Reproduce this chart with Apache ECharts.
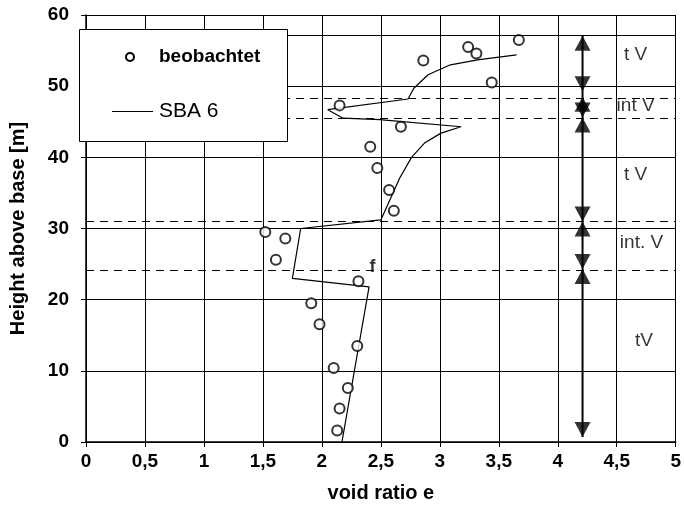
<!DOCTYPE html>
<html><head><meta charset="utf-8">
<script src="https://cdn.jsdelivr.net/npm/echarts@6/dist/echarts.min.js"></script>
<style>html,body{margin:0;padding:0;background:#fff}#c{width:684px;height:515px}</style>
</head><body><div id="c"></div>
<script>
// observed void ratio (x) vs height (y)
const observed = [
  [3.67,56.5],[3.24,55.5],[3.31,54.6],[2.86,53.6],[3.44,50.5],[2.15,47.3],[2.67,44.3],
  [2.41,41.5],[2.47,38.5],[2.57,35.4],[2.61,32.5],[1.52,29.5],[1.69,28.6],[1.61,25.6],
  [2.31,22.6],[1.91,19.5],[1.98,16.55],[2.30,13.5],[2.10,10.4],[2.22,7.6],[2.15,4.7],[2.13,1.6]
];
// SBA 6 model curve
const sba6 = [
  [2.17,0],[2.40,21.8],[1.75,23.0],[1.82,30.0],[2.50,31.2],[2.66,37.1],[2.76,40.0],
  [2.87,42.0],[3.01,43.4],[3.18,44.3],[2.49,45.3],[2.18,45.5],[2.05,46.7],[2.73,48.2],
  [2.78,49.7],[2.90,51.6],[3.09,53.0],[3.32,53.7],[3.65,54.4]
];
const solidBoundaries = [57.1];
const dashedBoundaries = [48.3, 45.5, 31.0, 24.1];
const arrowX = 4.21;
const arrowSpan = [0.7, 57.1];
const upTips = [57.1, 48.5, 45.6, 31.0, 24.3];
const downTips = [49.3, 45.6, 31.0, 24.3, 0.7];
const zoneLabels = [
  {name:'t V', value:[4.66,54.4]},
  {name:'int V', value:[4.66,47.2]},
  {name:'t V', value:[4.66,37.6]},
  {name:'int. V', value:[4.71,28.0]},
  {name:'tV', value:[4.73,14.2]}
];
const fLabel = [{name:'f', value:[2.43,24.6]}];
const xTicks = {min:0, max:5, interval:0.5};
const yTicks = {min:0, max:60, interval:10};

const F = 'Liberation Sans, Arial, sans-serif';
const chart = echarts.init(document.getElementById('c'));
chart.setOption({
  animation:false,
  backgroundColor:'#fff',
  grid:{left:86, right:4, top:15, bottom:73, containLabel:false},
  xAxis:{type:'value', min:xTicks.min, max:xTicks.max, interval:xTicks.interval,
    name:'void ratio e', nameLocation:'middle', nameGap:41,
    nameTextStyle:{fontFamily:F, fontWeight:'bold', fontSize:20, color:'#000'},
    axisLine:{show:true, onZero:false, lineStyle:{color:'#000', width:1.5}},
    axisTick:{show:true, length:5, lineStyle:{color:'#000'}},
    axisLabel:{fontFamily:F, fontWeight:'bold', fontSize:19, color:'#000', margin:10,
      formatter:v=>String(v).replace('.',',')},
    splitLine:{show:true, lineStyle:{color:'#000', width:1}}},
  yAxis:{type:'value', min:yTicks.min, max:yTicks.max, interval:yTicks.interval,
    name:'Height above base [m]', nameLocation:'middle', nameGap:58, nameRotate:90,
    nameTextStyle:{fontFamily:F, fontWeight:'bold', fontSize:20, color:'#000'},
    axisLine:{show:true, onZero:false, lineStyle:{color:'#000', width:1.5}},
    axisTick:{show:true, length:5, lineStyle:{color:'#000'}},
    axisLabel:{fontFamily:F, fontWeight:'bold', fontSize:19, color:'#000', margin:17},
    splitLine:{show:true, lineStyle:{color:'#000', width:1}}},
  series:[
    {type:'line', data:[], silent:true,
     markLine:{symbol:'none', silent:true, label:{show:false},
       data:[
         ...solidBoundaries.map(v=>({yAxis:v, lineStyle:{color:'#000', width:1, type:'solid'}})),
         ...dashedBoundaries.map(v=>({yAxis:v, lineStyle:{color:'#000', width:1, type:[8,6]}}))
       ]}},
    {type:'line', name:'SBA 6', data:sba6, showSymbol:false, symbol:'none',
     lineStyle:{color:'#000', width:1.2}, z:3},
    {type:'scatter', name:'beobachtet', data:observed, symbol:'circle', symbolSize:10,
     itemStyle:{color:'#fff', borderColor:'#000', borderWidth:2}, z:4},
    {type:'line', data:arrowSpan.map(v=>[arrowX,v]), symbol:'none',
     lineStyle:{color:'#000', width:2}, z:3},
    {type:'scatter', data:upTips.map(v=>[arrowX,v]), symbol:'triangle', symbolSize:[16,15],
     symbolOffset:[0,'50%'], itemStyle:{color:'#000'}, z:5},
    {type:'scatter', data:downTips.map(v=>[arrowX,v]), symbol:'triangle', symbolSize:[16,15],
     symbolRotate:180, symbolOffset:[0,'-50%'], itemStyle:{color:'#000'}, z:5},
    {type:'scatter', data:zoneLabels, symbolSize:0, z:6,
     label:{show:true, position:'inside', formatter:p=>p.name, fontFamily:F, fontSize:19, color:'#000'}},
    {type:'scatter', data:fLabel, symbolSize:0, z:6,
     label:{show:true, position:'inside', formatter:p=>p.name, fontFamily:F, fontWeight:'bold', fontSize:18, color:'#000'}}
  ],
  graphic:[
    {type:'rect', left:79, top:29, z:100, shape:{width:208, height:112}, style:{fill:'#fff', stroke:'#000', lineWidth:1}},
    {type:'circle', x:130, y:57, z:101, shape:{cx:0, cy:0, r:4}, style:{fill:'#fff', stroke:'#000', lineWidth:2}},
    {type:'text', x:159, y:57, z:101, style:{text:'beobachtet', font:'bold 19px '+F, fill:'#000', verticalAlign:'middle'}},
    {type:'line', z:101, shape:{x1:112, y1:111.5, x2:153, y2:111.5}, style:{stroke:'#000', lineWidth:1}},
    {type:'text', x:159, y:111, z:101, style:{text:'SBA 6', font:'21px '+F, fill:'#000', verticalAlign:'middle'}}
  ]
});
</script></body></html>
